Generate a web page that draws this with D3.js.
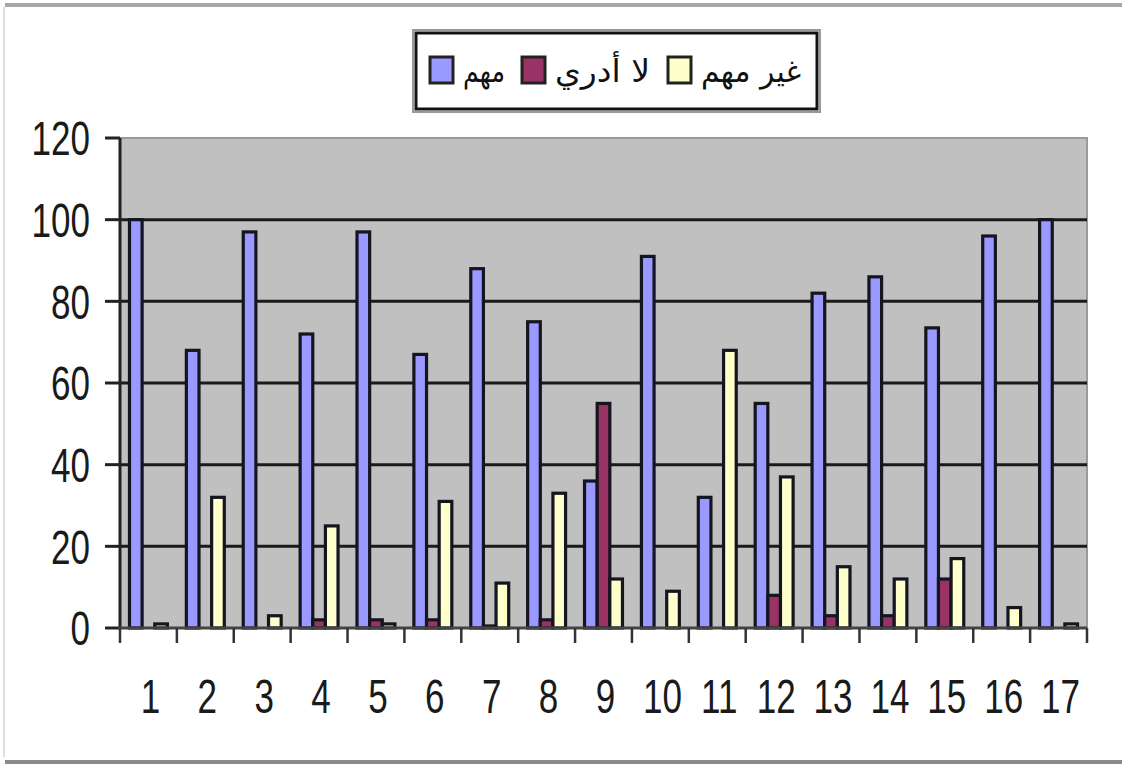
<!DOCTYPE html>
<html><head><meta charset="utf-8">
<script src="https://cdn.jsdelivr.net/npm/d3@7"></script>
<style>html,body{margin:0;padding:0;background:#fff;}svg{display:block;}</style>
</head><body>
<script>
const categories = ["1","2","3","4","5","6","7","8","9","10","11","12","13","14","15","16","17"];
const seriesNames = ["مهم", "لا أدري", "غير مهم"];
const important   = [100, 68, 97, 72, 97, 67, 88, 75, 36, 91, 32, 55, 82, 86, 73.5, 96, 100];
const dontKnow    = [0, 0, 0, 2, 2, 2, 0.5, 2, 55, 0, 0, 8, 3, 3, 12, 0, 0];
const notImportant= [1, 32, 3, 25, 1, 31, 11, 33, 12, 9, 68, 37, 15, 12, 17, 5, 1];
const yTicks = [0, 20, 40, 60, 80, 100, 120];
const colors = ["#9999FF", "#993366", "#FFFFCC"];
const seriesValues = [important, dontKnow, notImportant];

const W = 1122, H = 764;
const svg = d3.select("body").append("svg").attr("width", W).attr("height", H);

// outer frame
svg.append("rect").attr("x", 5).attr("y", 3).attr("width", W - 5).attr("height", 4).attr("fill", "#a6a6a6");
svg.append("rect").attr("x", 3).attr("y", 7).attr("width", 2).attr("height", 750).attr("fill", "#dedede");
svg.append("rect").attr("x", 5).attr("y", 760).attr("width", W - 5).attr("height", 4).attr("fill", "#8a8a8a");

const plot = {left: 120, right: 1087, top: 138, bottom: 628};
const x0 = d3.scaleBand().domain(categories).range([plot.left, plot.right]).padding(0);
const x1 = d3.scaleBand().domain(d3.range(3)).range([0, x0.bandwidth()]).paddingInner(0).paddingOuter(0.75);
const y = d3.scaleLinear().domain([0, 120]).range([plot.bottom, plot.top]);

// plot background
svg.append("rect").attr("x", plot.left).attr("y", plot.top)
  .attr("width", plot.right - plot.left).attr("height", plot.bottom - plot.top)
  .attr("fill", "#C0C0C0").attr("stroke", "#9a9a9a").attr("stroke-width", 2);

// gridlines
svg.append("g").selectAll("line").data(yTicks.filter(d => d > 0 && d < 120)).join("line")
  .attr("x1", plot.left).attr("x2", plot.right)
  .attr("y1", d => y(d)).attr("y2", d => y(d))
  .attr("stroke", "#1a1a1a").attr("stroke-width", 3);

// bars
const groups = svg.append("g").selectAll("g").data(categories).join("g")
  .attr("transform", d => `translate(${x0(d)},0)`);
groups.selectAll("rect").data((d, i) => seriesValues.map((s, k) => ({k, v: s[i]})))
  .join("rect")
  .attr("x", d => x1(d.k))
  .attr("width", x1.bandwidth())
  .attr("y", d => y(d.v))
  .attr("height", d => y(0) - y(d.v))
  .attr("fill", d => colors[d.k])
  .attr("stroke", "#15151f")
  .attr("stroke-width", 3.2);

// y axis
const yAxis = svg.append("g");
yAxis.append("line").attr("x1", plot.left).attr("x2", plot.left)
  .attr("y1", plot.top).attr("y2", plot.bottom).attr("stroke", "#222").attr("stroke-width", 3);
yAxis.selectAll("line.t").data(yTicks).join("line").attr("class", "t")
  .attr("x1", 105).attr("x2", plot.left).attr("y1", d => y(d)).attr("y2", d => y(d))
  .attr("stroke", "#222").attr("stroke-width", 3);
yAxis.selectAll("text").data(yTicks).join("text")
  .attr("transform", d => `translate(90,${y(d)}) scale(0.73,1)`)
  .attr("dy", "0.36em")
  .attr("text-anchor", "end")
  .attr("font-family", "Liberation Sans, Arial, sans-serif")
  .attr("font-size", 48).attr("fill", "#1a1a1a")
  .text(d => d);

// x axis
const xAxis = svg.append("g");
xAxis.append("line").attr("x1", plot.left - 2).attr("x2", plot.right)
  .attr("y1", plot.bottom).attr("y2", plot.bottom).attr("stroke", "#444").attr("stroke-width", 3);
const bounds = categories.map(c => x0(c)).concat([plot.right]);
xAxis.selectAll("line.t").data(bounds).join("line").attr("class", "t")
  .attr("x1", d => d).attr("x2", d => d).attr("y1", plot.bottom).attr("y2", 643)
  .attr("stroke", "#333").attr("stroke-width", 2.5);
xAxis.selectAll("text").data(categories).join("text")
  .attr("transform", d => `translate(${x0(d) + x0.bandwidth() / 2 + 2},713) scale(0.73,1)`)
  .attr("text-anchor", "middle")
  .attr("font-family", "Liberation Sans, Arial, sans-serif")
  .attr("font-size", 48).attr("fill", "#1a1a1a")
  .text(d => d);

// legend
const lg = svg.append("g");
lg.append("rect").attr("x", 413).attr("y", 30).attr("width", 407).attr("height", 82).attr("fill", "none").attr("stroke", "#999").attr("stroke-width", 2);
lg.append("rect").attr("x", 416).attr("y", 33).attr("width", 401).attr("height", 76).attr("fill", "#fff").attr("stroke", "#111").attr("stroke-width", 3);
const swatchX = [430, 522, 668];
const textW = [42, 95, 100];
seriesNames.forEach((name, k) => {
  lg.append("rect").attr("x", swatchX[k]).attr("y", 57).attr("width", 23).attr("height", 26)
    .attr("fill", colors[k]).attr("stroke", "#222").attr("stroke-width", 3);
  lg.append("text").attr("x", swatchX[k] + 33).attr("y", 82)
    .attr("font-family", "DejaVu Sans, sans-serif").attr("font-size", 31).attr("fill", "#111")
    .attr("textLength", textW[k]).attr("lengthAdjust", "spacingAndGlyphs")
    .text(name);
});
</script>
</body></html>
